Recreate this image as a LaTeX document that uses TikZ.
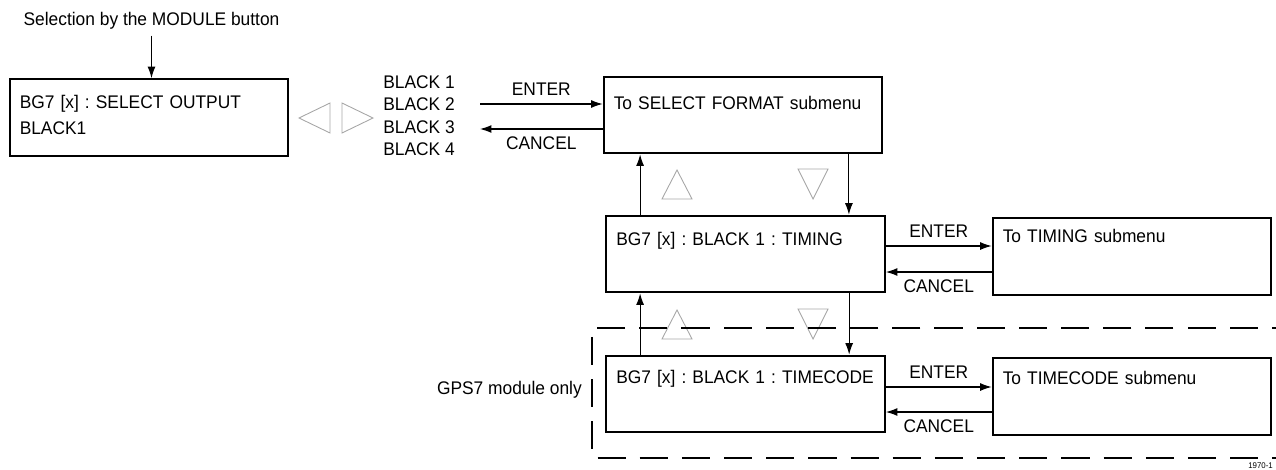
\documentclass[tikz,border=0pt]{standalone}
\usepackage{fontspec}
\setmainfont{Liberation Sans}[FakeStretch=0.95]
\usetikzlibrary{arrows.meta, positioning}
\frenchspacing
\hyphenpenalty=10000

\begin{document}
\begin{tikzpicture}[
    every node/.style={font=\fontsize{10.4}{12.8}\selectfont},
    menu/.style={rectangle, draw, line width=1.3pt, minimum height=1.53cm,
                 text width=5.17cm, inner xsep=0.2cm, align=left, text height=7.5pt},
    arr/.style={-{Latex[length=6.5pt, width=4.5pt]}, line width=0.6pt},
    tri/.style={draw=gray!70, line width=0.5pt},
    frame/.style={line width=0.6pt, dash pattern=on 16pt off 8pt},
]
    \useasboundingbox (0,0) rectangle (25.52,-9.38);

    % ── Output selection ──
    \node (sel) at (3.03,-0.42) {Selection by the MODULE button};
    \node[menu, text depth=0.62cm] (out) at (2.98,-2.35)
        {BG7 [x] : SELECT OUTPUT\\[2pt]BLACK1};
    \draw[arr] (sel.south) -- (sel.south |- out.north);

    % left / right keys
    \draw[tri] (5.98,-2.36) -- (6.60,-2.06) -- (6.60,-2.66) -- cycle;
    \draw[tri] (7.46,-2.36) -- (6.84,-2.06) -- (6.84,-2.66) -- cycle;

    \node[anchor=west, inner sep=0pt, align=left] (blk) at (7.66,-2.31)
        {BLACK 1\\BLACK 2\\BLACK 3\\BLACK 4};

    % ── SELECT FORMAT ──
    \node[menu, text depth=0.48cm] (fmt) at (14.86,-2.30) {To SELECT FORMAT submenu};

    \coordinate (enter1) at (9.60,-2.08);
    \coordinate (cancel1) at (9.60,-2.58);
    \draw[arr] (enter1) -- (enter1 -| fmt.west) node[midway, above=1pt] {ENTER};
    \draw[arr] (cancel1 -| fmt.west) -- (cancel1) node[midway, below=1pt] {CANCEL};

    % ── TIMING ──
    \node[menu, text depth=0.60cm] (tim) at (14.91,-5.08) {BG7 [x] : BLACK 1 : TIMING};
    \node[menu, text depth=0.82cm] (timsub) at (22.64,-5.13) {To TIMING submenu};

    \draw[arr] ([xshift=0.7cm]tim.north west) coordinate (up1) -- (up1 |- fmt.south);
    \draw[arr] ([xshift=-0.69cm]fmt.south east) coordinate (dn1) -- (dn1 |- tim.north);

    \coordinate (enter2) at ([yshift=0.16cm]tim.east);
    \coordinate (cancel2) at ([yshift=-0.36cm]tim.east);
    \draw[arr] (enter2) -- (enter2 -| timsub.west) node[midway, above=1pt] {ENTER};
    \draw[arr] (cancel2 -| timsub.west) -- (cancel2) node[midway, below=1pt] {CANCEL};

    % up / down keys
    \foreach \dy in {0,-2.8} {
        \draw[tri, yshift=\dy cm] (13.54,-3.40) -- (13.84,-3.98) -- (13.24,-3.98) -- cycle;
        \draw[tri, yshift=\dy cm] (16.26,-3.98) -- (15.96,-3.38) -- (16.56,-3.38) -- cycle;
    }

    % ── TIMECODE (GPS7 only) ──
    \node[menu, text depth=0.68cm] (tc) at (14.91,-7.88) {BG7 [x] : BLACK 1 : TIMECODE};
    \node[menu, text depth=0.74cm] (tcsub) at (22.64,-7.93) {To TIMECODE submenu};

    \draw[arr] ([xshift=0.7cm]tc.north west) coordinate (up2) -- (up2 |- tim.south);
    \draw[arr] ([xshift=-0.735cm]tim.south east) coordinate (dn2) -- (dn2 |- tc.north);

    \coordinate (enter3) at ([yshift=0.14cm]tc.east);
    \coordinate (cancel3) at ([yshift=-0.36cm]tc.east);
    \draw[arr] (enter3) -- (enter3 -| tcsub.west) node[midway, above=1pt] {ENTER};
    \draw[arr] (cancel3 -| tcsub.west) -- (cancel3) node[midway, below=1pt] {CANCEL};

    \draw[frame] (26,-6.56) -| (11.84,-9.16) -- (26,-9.16);
    \node[anchor=east] (gps) at (11.76,-7.80) {GPS7 module only};

    \node[anchor=north west, inner sep=0pt, font=\fontsize{4.7}{5}\selectfont] (fig)
        at (24.96,-9.24) {1970-1};

\end{tikzpicture}
\end{document}
